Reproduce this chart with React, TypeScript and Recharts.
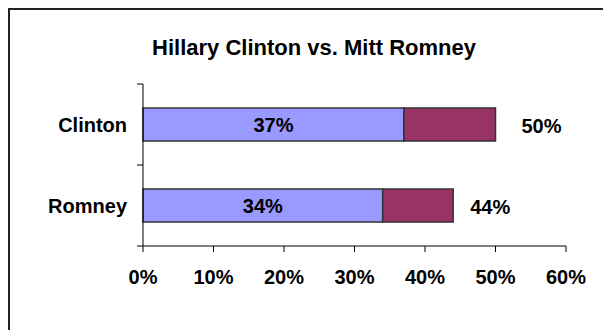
import { BarChart, Bar, XAxis, YAxis, LabelList } from "recharts";

const candidates = ["Clinton", "Romney"];
const strongSupport = [37, 34];
const totalSupport = [50, 44];
const xTicks = [0, 10, 20, 30, 40, 50, 60];

// second stacked segment = total minus strong
const rows = candidates.map((name, i) => ({
  name,
  strong: strongSupport[i],
  rest: totalSupport[i] - strongSupport[i],
  total: totalSupport[i],
}));

const FONT = "'Liberation Sans', Arial, sans-serif";
const totalLabelGap = [26, 17];

function CategoryTick(props: any) {
  const { x, y, payload, index } = props;
  const half = payload.offset ?? 0;
  const axisX = x + 16;
  return (
    <g>
      <line x1={axisX - 6} x2={axisX} y1={y - half} y2={y - half} stroke="#000" />
      {index === candidates.length - 1 && (
        <line x1={axisX - 6} x2={axisX} y1={y + half} y2={y + half} stroke="#000" />
      )}
      <text
        x={x}
        y={y}
        dy="0.36em"
        textAnchor="end"
        fontFamily={FONT}
        fontWeight="bold"
        fontSize={20}
        fill="#000"
      >
        {payload.value}
      </text>
    </g>
  );
}

function TotalLabel(props: any) {
  const { x, y, width, height, value, index } = props;
  return (
    <text
      x={x + width + totalLabelGap[index]}
      y={y + height / 2 + 1}
      dy="0.36em"
      fontFamily={FONT}
      fontWeight="bold"
      fontSize={20}
      fill="#000"
    >
      {value}%
    </text>
  );
}

export default function App() {
  return (
    <div
      style={{
        position: "relative",
        width: 601,
        height: 320,
        borderTop: "2px solid #222",
        borderLeft: "2px solid #222",
        overflow: "hidden",
        background: "#fff",
      }}
    >
      <div
        style={{
          position: "absolute",
          left: 4,
          width: 600,
          top: 27,
          lineHeight: "22px",
          textAlign: "center",
          fontFamily: FONT,
          fontWeight: "bold",
          fontSize: 22,
          color: "#000",
        }}
      >
        Hillary Clinton vs. Mitt Romney
      </div>
      <BarChart
        width={601}
        height={320}
        data={rows}
        layout="vertical"
        margin={{ top: 74, right: 45, bottom: 54, left: 0 }}
        barCategoryGap={0}
      >
        <XAxis
          type="number"
          domain={[0, 60]}
          ticks={xTicks}
          interval={0}
          height={30}
          tickFormatter={(v: number) => `${v}%`}
          axisLine={{ stroke: "#000" }}
          tickLine={{ stroke: "#000" }}
          tickSize={6}
          tickMargin={18}
          tick={{ fontFamily: FONT, fontWeight: "bold", fontSize: 20, fill: "#000" }}
        />
        <YAxis
          type="category"
          dataKey="name"
          width={133}
          axisLine={{ stroke: "#000" }}
          tickLine={false}
          tickSize={0}
          tickMargin={16}
          tick={<CategoryTick />}
        />
        <Bar
          dataKey="strong"
          stackId="a"
          fill="#9999FF"
          stroke="#333"
          strokeWidth={1.5}
          barSize={33}
          isAnimationActive={false}
        >
          <LabelList
            dataKey="strong"
            position="center"
            formatter={(v: any) => `${v}%`}
            fontFamily={FONT}
            fontWeight="bold"
            fontSize={20}
            fill="#000"
          />
        </Bar>
        <Bar
          dataKey="rest"
          stackId="a"
          fill="#993366"
          stroke="#333"
          strokeWidth={1.5}
          barSize={33}
          isAnimationActive={false}
        >
          <LabelList dataKey="total" content={<TotalLabel />} />
        </Bar>
      </BarChart>
    </div>
  );
}
